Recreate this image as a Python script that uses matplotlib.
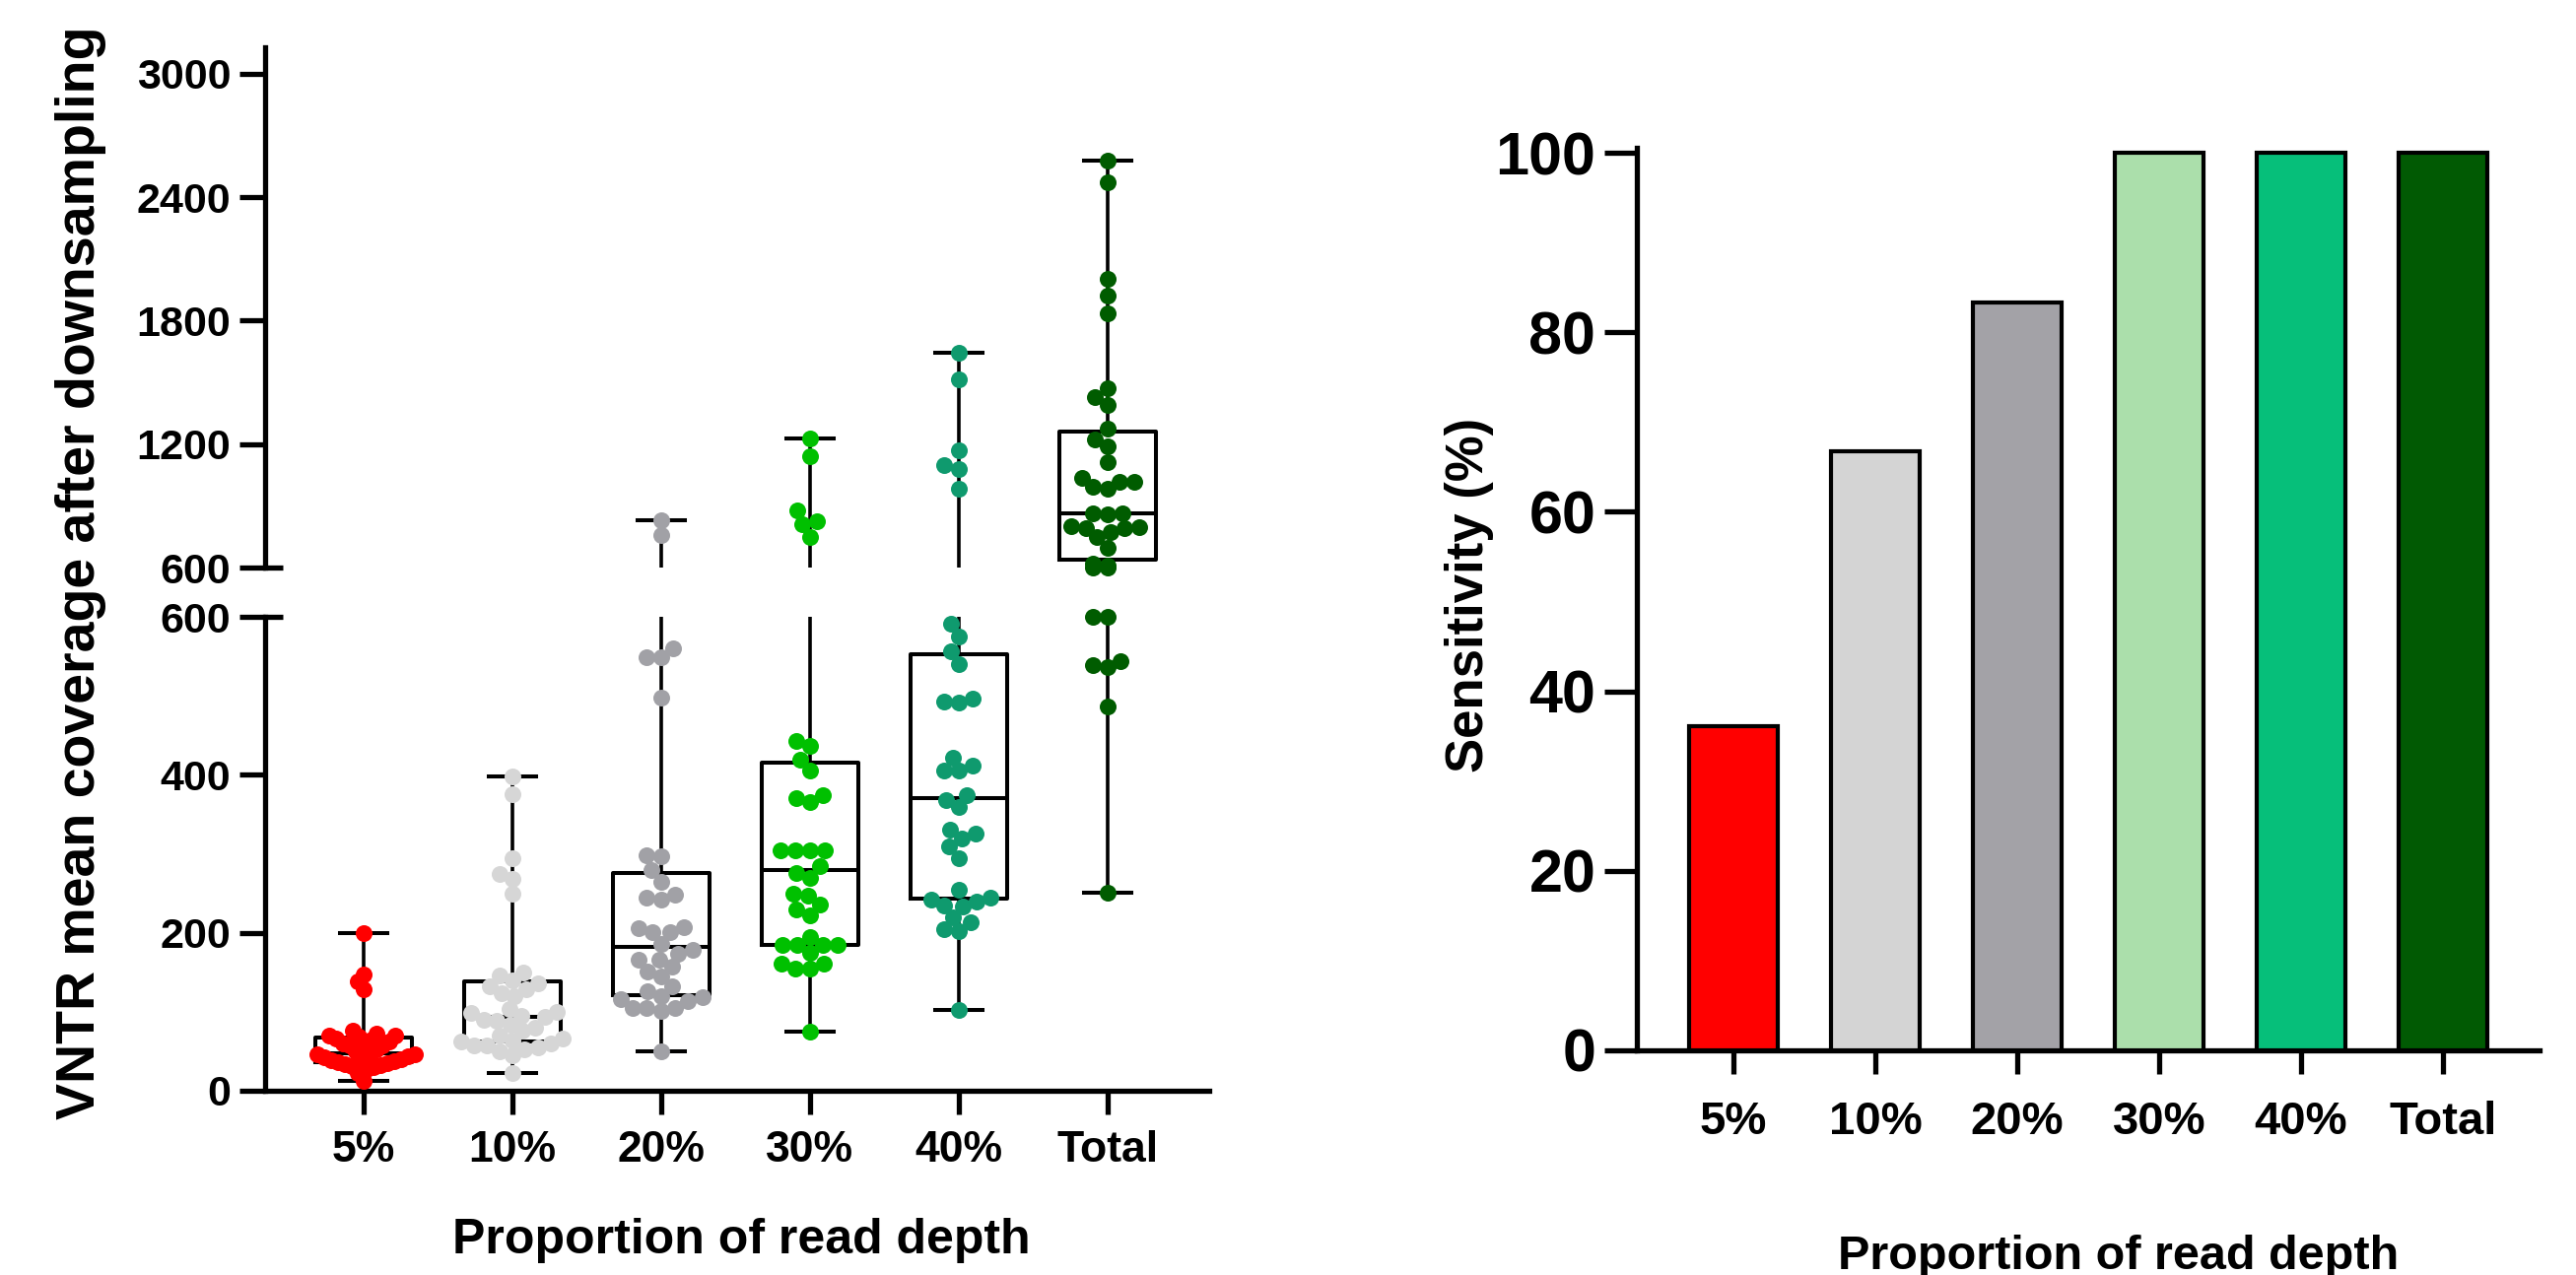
import numpy as np
import matplotlib
matplotlib.use("Agg")
import matplotlib.pyplot as plt
from matplotlib import cbook
from matplotlib.lines import Line2D

plt.rcParams['font.family'] = ['Liberation Sans', 'DejaVu Sans']
plt.rcParams['font.weight'] = 'bold'
plt.rcParams['axes.labelweight'] = 'bold'

groups = ['5%', '10%', '20%', '30%', '40%', 'Total']

# VNTR mean coverage after downsampling
cov_5 = [12, 22, 28, 30, 31, 32, 34, 35, 36, 37, 38, 39, 40, 42, 44, 45, 46, 46,
         50, 52, 55, 57, 58, 60, 62, 64, 66, 68, 70, 70, 72, 76, 128, 138, 147, 199]
cov_10 = [22, 45, 50, 52, 55, 57, 58, 60, 62, 64, 66, 70, 76, 80, 84, 88, 90, 93,
          95, 98, 100, 103, 120, 124, 128, 132, 136, 140, 146, 150, 249, 268, 275,
          295, 375, 398]
cov_20 = [50, 101, 105, 105, 105, 114, 116, 118, 120, 126, 132, 145, 151, 157, 166,
          166, 174, 178, 186, 201, 201, 206, 207, 242, 245, 248, 265, 279, 297, 298,
          498, 549, 549, 560, 758, 830]
cov_30 = [75, 155, 155, 161, 161, 175, 184, 184, 184, 184, 195, 222, 230, 236, 247,
          249, 270, 276, 284, 304, 304, 304, 304, 366, 371, 374, 405, 419, 437, 443,
          750, 811, 825, 878, 1141, 1229]
cov_40 = [102, 202, 204, 213, 219, 233, 234, 239, 242, 245, 254, 295, 309, 319, 325,
          330, 359, 368, 374, 405, 406, 412, 422, 491, 493, 497, 540, 556, 575, 591,
          985, 1077, 1096, 1170, 1516, 1644]
cov_total = [251, 487, 536, 539, 544, 600, 600, 610, 620, 697, 747, 772, 793, 793,
             797, 803, 861, 865, 865, 982, 991, 1019, 1019, 1038, 1112, 1189, 1223,
             1276, 1389, 1428, 1470, 1836, 1923, 2002, 2473, 2578]
coverage = [cov_5, cov_10, cov_20, cov_30, cov_40, cov_total]

# sensitivity (%) per proportion
sensitivity = [36.1, 66.7, 83.3, 100, 100, 100]

dot_colors = ['#ff0000', '#d6d6d6', '#a1a1a6', '#00c000', '#0f9a6e', '#005c00']
bar_colors = ['#ff0000', '#d4d4d4', '#a3a2a7', '#abdfab', '#06bf7a', '#015a03']

W, H = 2614, 1294
fig = plt.figure(figsize=(W / 100, H / 100), dpi=100)


def add_px_axes(x0, y_top, x1, y_bot):
    return fig.add_axes([x0 / W, 1 - y_bot / H, (x1 - x0) / W, (y_bot - y_top) / H])


def style_axes(ax, bottom=True):
    for s in ['top', 'right']:
        ax.spines[s].set_visible(False)
    ax.spines['bottom'].set_visible(bottom)
    for s in ['left', 'bottom']:
        ax.spines[s].set_linewidth(3.8)
        ax.spines[s].set_capstyle('projecting')
    ax.set_facecolor('none')


def hbar_px(x0, x1, y):
    # short horizontal bar in pixel coords (origin top-left)
    fig.add_artist(Line2D([x0 / W, x1 / W], [1 - y / H, 1 - y / H],
                          transform=fig.transFigure, color='black', lw=3.8,
                          solid_capstyle='butt'))


# ---------------- left: broken-axis box + dots ----------------
SPINE_X = 269
ax_lo = add_px_axes(SPINE_X, 626, 1227, 1107)
ax_hi = add_px_axes(SPINE_X, 48, 1227, 576)
for ax in (ax_lo, ax_hi):
    ax.set_xlim(-0.662, 5.684)
ax_lo.set_ylim(0, 600)
ax_hi.set_ylim(600, 3129)
style_axes(ax_lo)
style_axes(ax_hi, bottom=False)

# box stats (quartiles computed GraphPad-style)
stats = cbook.boxplot_stats(coverage, whis=(0, 100))
for st, vals in zip(stats, coverage):
    q1, q3 = np.percentile(vals, [25, 75], method='weibull')
    st['q1'], st['q3'] = q1, q3
    st['med'] = np.median(vals)

for ax in (ax_lo, ax_hi):
    ax.bxp(stats, positions=range(len(groups)), widths=0.65, capwidths=0.32,
           showfliers=False, manage_ticks=False,
           boxprops=dict(color='black', linewidth=2.9),
           whiskerprops=dict(color='black', linewidth=2.6),
           capprops=dict(color='black', linewidth=2.9),
           medianprops=dict(color='black', linewidth=2.9))

ax_lo.set_yticks([0, 200, 400, 600])
ax_hi.set_yticks([600, 1200, 1800, 2400, 3000])
ax_lo.set_xticks(range(len(groups)))
ax_lo.set_xticklabels(groups)
ax_hi.set_xticks([])
for ax in (ax_lo, ax_hi):
    ax.tick_params(axis='y', length=19, width=3.8, labelsize=31, pad=6)
    ax.tick_params(axis='x', length=17, width=3.8, labelsize=32, pad=12)

# the little cross bars at the axis break
hbar_px(SPINE_X - 2, SPINE_X + 18, 576)
hbar_px(SPINE_X - 2, SPINE_X + 18, 626)


def ypix(v):
    ax = ax_lo if v <= 600 else ax_hi
    return ax.transData.transform((0, v))[1]


def swarm(ys, d):
    order = np.argsort(ys)
    placed = []
    xs = np.zeros(len(ys))
    for i in order:
        y = ys[i]
        cands = [0.0]
        for px, py in placed:
            dy = abs(py - y)
            if dy < d:
                dx = np.sqrt(d * d - dy * dy)
                cands += [px + dx, px - dx]
        cands.sort(key=lambda c: (abs(c), c))
        for c in cands:
            if all((c - px) ** 2 + (y - py) ** 2 >= d * d - 1e-6 for px, py in placed):
                xs[i] = c
                break
        placed.append((xs[i], y))
    return xs


unit_px = ax_lo.transData.transform((1, 0))[0] - ax_lo.transData.transform((0, 0))[0]
dot_d = 16.5
max_half = 52.0
for i, vals in enumerate(coverage):
    vals = np.array(vals, dtype=float)
    ys = np.array([ypix(v) for v in vals])
    off = swarm(ys, dot_d * 0.9)
    widest = np.abs(off).max()
    if widest > max_half:
        off = off * max_half / widest
    xs = i + off / unit_px
    lo = vals <= 600
    hi = vals >= 600
    ax_lo.scatter(xs[lo], vals[lo], s=150, color=dot_colors[i], linewidths=0,
                  zorder=5, clip_on=False)
    ax_hi.scatter(xs[hi], vals[hi], s=150, color=dot_colors[i], linewidths=0,
                  zorder=5, clip_on=False)

fig.text(82 / W, 1 - 581 / H, 'VNTR mean coverage after downsampling', rotation=90,
         ha='center', va='center', fontsize=40, fontweight='bold')
fig.text(752 / W, 1 - 1259 / H, 'Proportion of read depth', ha='center',
         va='center', fontsize=36, fontweight='bold')

# ---------------- right: sensitivity bars ----------------
ax_r = add_px_axes(1661, 150, 2577, 1066)
ax_r.set_xlim(-0.68, 5.68)
ax_r.set_ylim(0, 100.55)
style_axes(ax_r)
ax_r.bar(range(len(groups)), sensitivity, width=0.63, color=bar_colors,
         edgecolor='black', linewidth=3.0, zorder=3)
ax_r.set_yticks([0, 20, 40, 60, 80, 100])
ax_r.set_xticks(range(len(groups)))
ax_r.set_xticklabels(groups)
ax_r.tick_params(axis='y', length=24, width=3.8, labelsize=44, pad=6)
ax_r.tick_params(axis='x', length=17, width=3.8, labelsize=34, pad=20)

fig.text(1491 / W, 1 - 604 / H, 'Sensitivity (%)', rotation=90, ha='center',
         va='center', fontsize=38, fontweight='bold')
fig.text(2150 / W, 1 - 1276 / H, 'Proportion of read depth', ha='center',
         va='center', fontsize=35, fontweight='bold')

fig.savefig('out.png', dpi=100)
